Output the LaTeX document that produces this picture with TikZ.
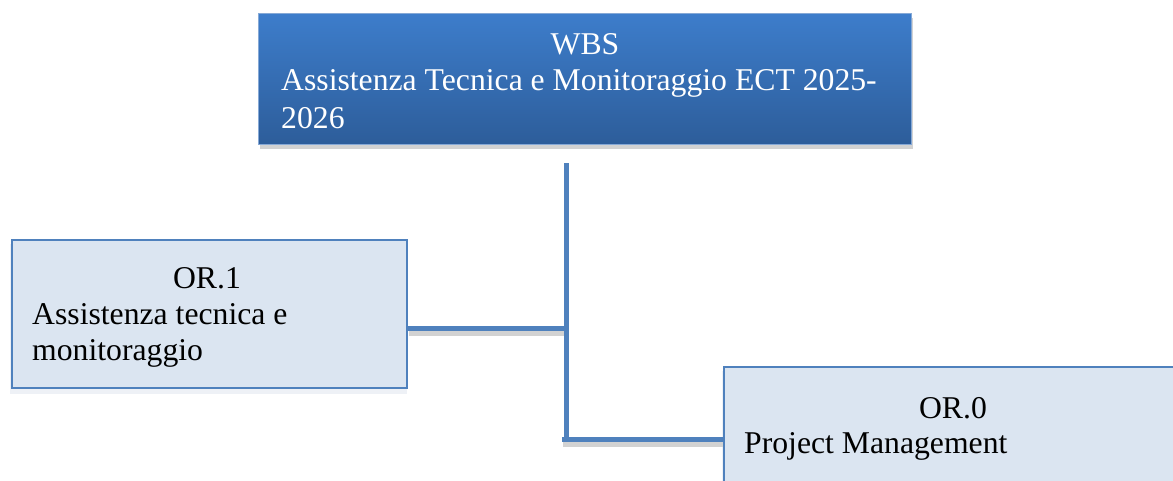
\documentclass[tikz,border=0pt]{standalone}
\usepackage{fontspec}
\setmainfont{Liberation Serif}
\definecolor{lineblue}{HTML}{4F81BD}
\definecolor{boxfill}{HTML}{DBE5F1}
\definecolor{wbstop}{HTML}{3D7DCB}
\definecolor{wbsbot}{HTML}{2D5D9A}
\definecolor{wbsedge}{HTML}{86A9D6}
\definecolor{shadowgray}{HTML}{D2D2D2}
\definecolor{faintshadow}{HTML}{EEF1F6}
\tikzset{
  wbsbox/.style={rectangle, draw=wbsedge, line width=1pt, top color=wbstop, bottom color=wbsbot, inner sep=0pt, anchor=north west},
  orbox/.style={rectangle, draw=lineblue, line width=1.5pt, fill=boxfill, inner sep=0pt, anchor=north west},
  boxshadow/.style={rectangle, fill=#1, draw=none, inner sep=0pt, anchor=north west},
  conn/.style={draw=lineblue, line width=5pt},
  connshadow/.style={draw=shadowgray, line width=5pt},
  txt/.style={font=\fontsize{31.7}{37}\selectfont, inner sep=0pt},
  wtxt/.style={txt, text=white}
}
\begin{document}
\begin{tikzpicture}[x=1pt,y=-1pt]
\clip (0,0) rectangle (1173,480);
\fill[white] (0,0) rectangle (1173,480);
% shadows
\node[boxshadow=shadowgray, minimum width=653pt, minimum height=131pt] (wbsshadow) at (260,18) {};
\node[boxshadow=faintshadow, minimum width=397pt, minimum height=150pt] (or1shadow) at (10,244) {};
\node[boxshadow=faintshadow, minimum width=470pt, minimum height=150pt] (or0shadow) at (722,371) {};
% boxes
\node[wbsbox, minimum width=653pt, minimum height=131pt] (wbs) at (258,13) {};
\node[orbox, minimum width=395pt, minimum height=148pt] (or1) at (11,239) {};
\node[orbox, minimum width=460pt, minimum height=150pt] (or0) at (723,366) {};
% texts
\node[wtxt, anchor=base] (wbsT1) at (585,54) {WBS};
\node[wtxt, anchor=base west] (wbsT2) at (281,90) {Assistenza Tecnica e Monitoraggio ECT 2025-};
\node[wtxt, anchor=base west] (wbsT3) at (281,128) {2026};
\node[txt, anchor=base] (or1T1) at (207,288) {OR.1};
\node[txt, anchor=base west] (or1T2) at (32,324) {Assistenza tecnica e};
\node[txt, anchor=base west] (or1T3) at (32,360) {monitoraggio};
\node[txt, anchor=base] (or0T1) at (953,418) {OR.0};
\node[txt, anchor=base west] (or0T2) at (744,453) {Project Management};
% connector points
\coordinate (trunkTop) at (566,163);
\coordinate (j1) at (566,328);
\coordinate (trunkBot) at (566,439);
% connector shadows
\draw[connshadow] ([shift={(1,5)}]or1.east |- j1) -- ([shift={(1,5)}]j1);
\draw[connshadow] ([shift={(-3,5)}]trunkBot) -- ([shift={(0,5)}]or0.west |- trunkBot);
% connectors
\draw[conn] (trunkTop) -- ([yshift=2.5pt]trunkBot);
\draw[conn] (or1.east |- j1) -- ([xshift=2.5pt]j1);
\draw[conn] ([xshift=-4pt]trunkBot) -- (or0.west |- trunkBot);
\end{tikzpicture}
\end{document}
